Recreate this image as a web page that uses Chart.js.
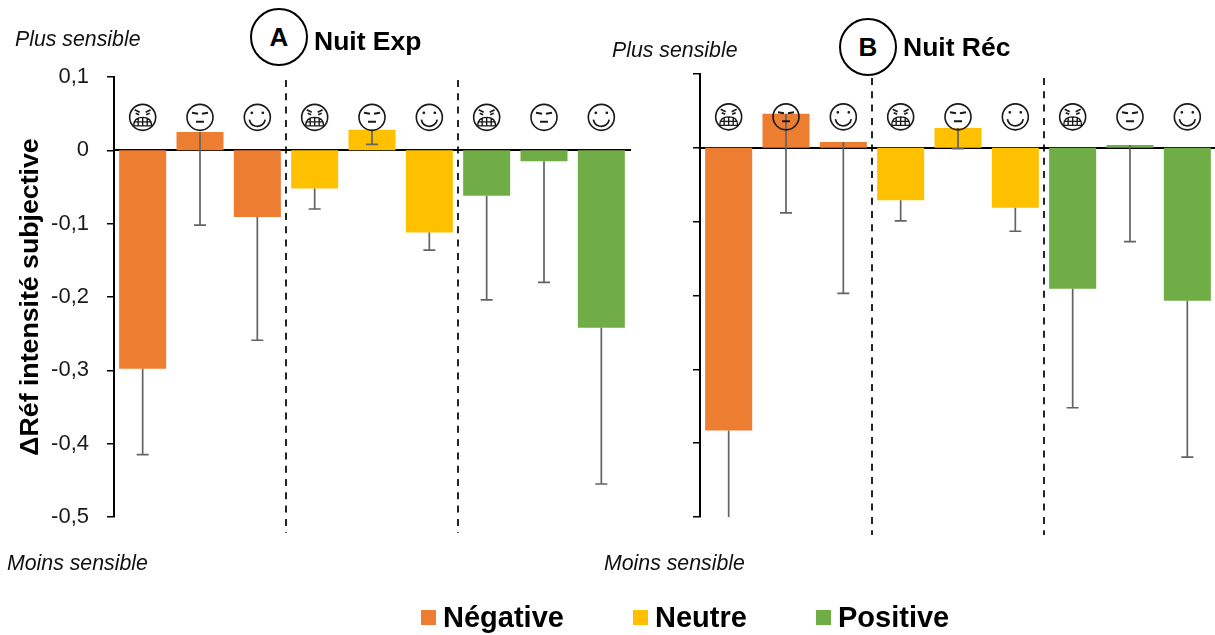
<!DOCTYPE html>
<html>
<head>
<meta charset="utf-8">
<script src="https://cdn.jsdelivr.net/npm/chart.js@4"></script>
<style>
  html, body { margin: 0; padding: 0; background: #fff; overflow: hidden; }
  body { width: 1215px; height: 635px; position: relative; font-family: "Liberation Sans", Arial, sans-serif; color: #000; }
  canvas { position: absolute; top: 0; }
  #chartA { left: 0; }
  #chartB { left: 650px; }
  .note { position: absolute; font-style: italic; font-size: 21.3px; line-height: 22px; white-space: nowrap; color: #111; }
  .title { position: absolute; font-weight: bold; font-size: 26.5px; line-height: 30px; white-space: nowrap; }
  .badge { position: absolute; width: 54px; height: 54px; border: 2.5px solid #000; border-radius: 50%; text-align: center; font-weight: bold; font-size: 26px; line-height: 54px; background: #fff; }
  .key { position: absolute; top: 610px; width: 15px; height: 15px; }
  .keytext { position: absolute; top: 601px; font-weight: bold; font-size: 29px; line-height: 32px; white-space: nowrap; }
</style>
</head>
<body>
<canvas id="chartA" width="640" height="635"></canvas>
<canvas id="chartB" width="566" height="635"></canvas>

<div class="note" style="left:15px;top:28px">Plus sensible</div>
<div class="note" style="left:612px;top:39px">Plus sensible</div>
<div class="note" style="left:7px;top:552px">Moins sensible</div>
<div class="note" style="left:604px;top:552px">Moins sensible</div>

<div class="badge" style="left:250px;top:8px">A</div>
<div class="title" style="left:314px;top:26px">Nuit Exp</div>
<div class="badge" style="left:839px;top:18px">B</div>
<div class="title" style="left:903px;top:32px">Nuit Réc</div>

<div class="key" style="left:421px;background:#ED7D31"></div>
<div class="keytext" style="left:443px">Négative</div>
<div class="key" style="left:633px;background:#FFC000"></div>
<div class="keytext" style="left:655px">Neutre</div>
<div class="key" style="left:816px;background:#70AD47"></div>
<div class="keytext" style="left:838px">Positive</div>

<script>
const categories = ['Nég-Nég', 'Nég-Neu', 'Nég-Pos', 'Neu-Nég', 'Neu-Neu', 'Neu-Pos', 'Pos-Nég', 'Pos-Neu', 'Pos-Pos'];
const faces = ['angry', 'neutral', 'happy', 'angry', 'neutral', 'happy', 'angry', 'neutral', 'happy'];
const barColors = ['#ED7D31', '#ED7D31', '#ED7D31', '#FFC000', '#FFC000', '#FFC000', '#70AD47', '#70AD47', '#70AD47'];

const nuitExp = [-0.298, 0.025, -0.091, -0.052, 0.028, -0.112, -0.062, -0.015, -0.242];
const nuitExpLow = [-0.415, -0.102, -0.259, -0.080, 0.008, -0.136, -0.204, -0.180, -0.455];

const nuitRec = [-0.383, 0.046, 0.008, -0.071, 0.027, -0.081, -0.191, 0.004, -0.207];
const nuitRecLow = [-0.500, -0.088, -0.197, -0.099, -0.001, -0.113, -0.352, -0.127, -0.419];

// bottom to top, same order as the scale builds its ticks
const yTickLabels = ['-0,5', '-0,4', '-0,3', '-0,2', '-0,1', '0', '0,1'];

// small line drawings of the three faces
function drawFace(ctx, x, y, kind) {
    const r = 13;
    ctx.save();
    ctx.translate(x, y);
    ctx.strokeStyle = '#1a1a1a';
    ctx.fillStyle = '#1a1a1a';
    ctx.lineWidth = 1.6;
    ctx.beginPath();
    ctx.arc(0, 0, r, 0, Math.PI * 2);
    ctx.stroke();
    ctx.beginPath();
    if (kind === 'angry') {
        ctx.lineWidth = 1.7;
        ctx.moveTo(-8, -7.5); ctx.lineTo(-3, -5);
        ctx.moveTo(8, -7.5); ctx.lineTo(3, -5);
        ctx.moveTo(-7, -4); ctx.lineTo(-3.5, -2.5);
        ctx.moveTo(7, -4); ctx.lineTo(3.5, -2.5);
        ctx.stroke();
        ctx.beginPath();
        ctx.lineWidth = 1.4;
        ctx.moveTo(-9, 8.5);
        ctx.quadraticCurveTo(-9, 0, 0, 0);
        ctx.quadraticCurveTo(9, 0, 9, 8.5);
        ctx.closePath();
        ctx.moveTo(-9, 4.5); ctx.lineTo(9, 4.5);
        ctx.moveTo(-4.5, 1.2); ctx.lineTo(-4.5, 8.5);
        ctx.moveTo(0, 0); ctx.lineTo(0, 8.5);
        ctx.moveTo(4.5, 1.2); ctx.lineTo(4.5, 8.5);
        ctx.stroke();
    } else if (kind === 'neutral') {
        ctx.lineWidth = 2;
        ctx.moveTo(-8, -4.5); ctx.lineTo(-2, -3.5);
        ctx.moveTo(8, -4.5); ctx.lineTo(2, -3.5);
        ctx.moveTo(-4, 4.5); ctx.lineTo(4, 4.5);
        ctx.stroke();
    } else {
        ctx.arc(-5.5, -4.5, 1.4, 0, Math.PI * 2);
        ctx.moveTo(6.9, -4.5);
        ctx.arc(5.5, -4.5, 1.4, 0, Math.PI * 2);
        ctx.fill();
        ctx.beginPath();
        ctx.lineWidth = 1.7;
        ctx.arc(0, 1, 8, 0.05 * Math.PI, 0.95 * Math.PI);
        ctx.stroke();
    }
    ctx.restore();
}

const extras = {
    id: 'extras',
    afterDatasetsDraw(chart, args, opts) {
        const { ctx, scales: { x, y } } = chart;

        // error bars, lower side only; one runs off the axis so it has no cap
        ctx.save();
        ctx.strokeStyle = '#636363';
        ctx.lineWidth = 1.7;
        opts.low.forEach((low, i) => {
            const px = x.getPixelForValue(i);
            const top = y.getPixelForValue(chart.data.datasets[0].data[i]);
            const bottom = y.getPixelForValue(low);
            ctx.beginPath();
            ctx.moveTo(px, top);
            ctx.lineTo(px, bottom);
            if (low > y.min) {
                ctx.moveTo(px - 6, bottom);
                ctx.lineTo(px + 6, bottom);
            }
            ctx.stroke();
        });
        ctx.restore();

        // faces sit at a fixed level above zero
        faces.forEach((kind, i) => {
            drawFace(ctx, x.getPixelForValue(i), y.getPixelForValue(0) - opts.faceOffset, kind);
        });

        // dashed separators between the three groups
        ctx.save();
        ctx.strokeStyle = '#000';
        ctx.lineWidth = 1.7;
        ctx.setLineDash([7, 6.3]);
        [2.5, 5.5].forEach(v => {
            const px = x.getPixelForValue(v);
            ctx.beginPath();
            ctx.moveTo(px, opts.sepTop);
            ctx.lineTo(px, opts.sepBottom);
            ctx.stroke();
        });
        ctx.restore();
    }
};

function makeChart(id, values, low, cfg) {
    return new Chart(document.getElementById(id).getContext('2d'), {
        type: 'bar',
        data: {
            labels: categories,
            datasets: [{
                data: values,
                backgroundColor: barColors,
                categoryPercentage: 0.82,
                barPercentage: 1
            }]
        },
        options: {
            responsive: false,
            animation: false,
            layout: { padding: { top: cfg.top, bottom: 118, left: 0, right: cfg.right } },
            plugins: {
                legend: { display: false },
                tooltip: { enabled: false },
                extras: { low: low, faceOffset: cfg.faceOffset, sepTop: cfg.sepTop, sepBottom: cfg.sepBottom }
            },
            scales: {
                x: {
                    position: { y: 0 },
                    ticks: { display: false },
                    grid: { display: false },
                    border: { color: '#000', width: 2 }
                },
                y: {
                    min: -0.5,
                    max: 0.1,
                    afterFit: scale => { scale.width = cfg.axisWidth; },
                    ticks: {
                        display: cfg.showLabels,
                        stepSize: 0.1,
                        color: '#1a1a1a',
                        font: { family: '"Liberation Sans"', size: 22 },
                        padding: 18,
                        callback: (v, i) => yTickLabels[i]
                    },
                    grid: { drawOnChartArea: false, drawTicks: true, tickLength: 7, color: '#000', lineWidth: 1.5 },
                    border: { color: '#000', width: 2 },
                    title: {
                        display: cfg.showLabels,
                        text: 'ΔRéf intensité subjective',
                        color: '#000',
                        font: { family: '"Liberation Sans"', size: 26.7, weight: 'bold' },
                        padding: { top: 15, bottom: 0 }
                    }
                }
            }
        },
        plugins: [extras]
    });
}

makeChart('chartA', nuitExp, nuitExpLow, { top: 77, right: 10, axisWidth: 114, showLabels: true, faceOffset: 33, sepTop: 80, sepBottom: 533 });
makeChart('chartB', nuitRec, nuitRecLow, { top: 74, right: 0, axisWidth: 50, showLabels: false, faceOffset: 31, sepTop: 78, sepBottom: 535 });
</script>
</body>
</html>
